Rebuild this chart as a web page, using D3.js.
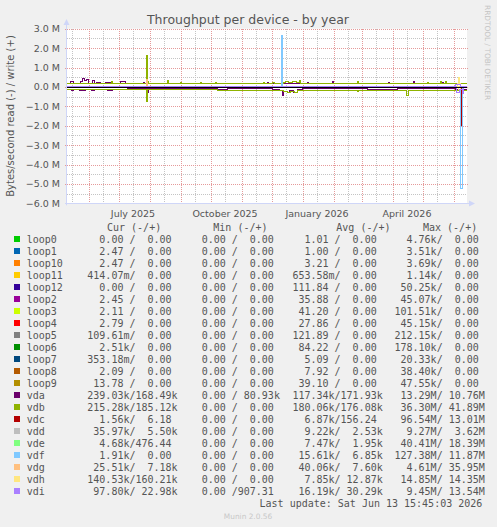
<!DOCTYPE html>
<html lang="en">
<head>
<meta charset="UTF-8">
<title>Throughput per device - by year</title>
<script src="https://d3js.org/d3.v7.min.js"></script>
<style>
  body { margin: 0; background: #f0f0f0; }
  svg { display: block; font-family: "DejaVu Sans", sans-serif; }
  .mono { font-family: "DejaVu Sans Mono", monospace; font-size: 10px; fill: #555; white-space: pre; }
  .tick-label { font-size: 9.5px; fill: #555; }
</style>
</head>
<body>
<div id="chart"></div>
<script>
// legend order = draw order
const devices = ["loop0", "loop1", "loop10", "loop11", "loop12", "loop2", "loop3", "loop4",
  "loop5", "loop6", "loop7", "loop8", "loop9", "vda", "vdb", "vdc", "vdd", "vde", "vdf",
  "vdg", "vdh", "vdi"];
const colors = ["#00CC00", "#0066B3", "#FF8000", "#FFCC00", "#330099", "#990099", "#CCFF00",
  "#FF0000", "#808080", "#008F00", "#00487D", "#B35A00", "#B38F00", "#6B006B", "#8FB300",
  "#B30000", "#BEBEBE", "#80FF80", "#80C9FF", "#FFC080", "#FFE680", "#AA80FF"];

// legend values (read / write)
const curVals = [["0.00","0.00"],["2.47","0.00"],["2.47","0.00"],["414.07m","0.00"],["0.00","0.00"],
  ["2.45","0.00"],["2.11","0.00"],["2.79","0.00"],["109.61m","0.00"],["2.51k","0.00"],
  ["353.18m","0.00"],["2.09","0.00"],["13.78","0.00"],["239.03k","168.49k"],["215.28k","185.12k"],
  ["1.56k","6.18"],["35.97k","5.50k"],["4.68k","476.44"],["1.91k","0.00"],["25.51k","7.18k"],
  ["140.53k","160.21k"],["97.80k","22.98k"]];
const minVals = [["0.00","0.00"],["0.00","0.00"],["0.00","0.00"],["0.00","0.00"],["0.00","0.00"],
  ["0.00","0.00"],["0.00","0.00"],["0.00","0.00"],["0.00","0.00"],["0.00","0.00"],
  ["0.00","0.00"],["0.00","0.00"],["0.00","0.00"],["0.00","80.93k"],["0.00","0.00"],
  ["0.00","0.00"],["0.00","0.00"],["0.00","0.00"],["0.00","0.00"],["0.00","0.00"],
  ["0.00","0.00"],["0.00","907.31"]];
const avgVals = [["1.01","0.00"],["1.00","0.00"],["3.21","0.00"],["653.58m","0.00"],["111.84","0.00"],
  ["35.88","0.00"],["41.20","0.00"],["27.86","0.00"],["121.89","0.00"],["84.22","0.00"],
  ["5.09","0.00"],["7.92","0.00"],["39.10","0.00"],["117.34k","171.93k"],["180.06k","176.08k"],
  ["6.87k","156.24"],["9.22k","2.53k"],["7.47k","1.95k"],["15.61k","6.85k"],["40.06k","7.60k"],
  ["7.85k","12.87k"],["16.19k","30.29k"]];
const maxVals = [["4.76k","0.00"],["3.51k","0.00"],["3.69k","0.00"],["1.14k","0.00"],["50.25k","0.00"],
  ["45.07k","0.00"],["101.51k","0.00"],["45.15k","0.00"],["212.15k","0.00"],["178.10k","0.00"],
  ["20.33k","0.00"],["38.40k","0.00"],["47.55k","0.00"],["13.29M","10.76M"],["36.30M","41.89M"],
  ["96.54M","13.01M"],["9.27M","3.62M"],["40.41M","18.39M"],["127.38M","11.87M"],["4.61M","35.95M"],
  ["14.85M","14.35M"],["9.45M","13.54M"]];

// series: [day since start, MB/s]; read drawn negative
const startDate = new Date(2025, 4, 10);
const spanDays = 400;
const zeroSeries = [[0, 0], [400, 0]];
const vdaWrite = [[0,0.17],[3,0.28],[6,0.17],[13,0.3],[15,0.43],[17,0.33],[19,0.4],[21,0.2],
  [25,0.35],[27,0.2],[29,0.24],[33,0.2],[38,0.25],[43,0.17],[53,0.26],[58,0.17],[76,0.22],
  [77,0.17],[200,0.22],[201,0.17],[240,0.24],[241,0.17],[265,0.26],[266,0.17],[321,0.23],
  [322,0.17],[346,0.26],[347,0.17],[375,0.25],[376,0.17],[400,0.17]];
const vdaRead = [[0,-0.13],[4,-0.2],[6,-0.13],[12,-0.18],[18,-0.12],[24,-0.2],[27,-0.13],
  [40,-0.16],[45,-0.12],[60,-0.1],[80,-0.3],[81,-0.1],[150,-0.12],[160,-0.1],[205,-0.15],
  [212,-0.2],[215,-0.45],[216,-0.25],[220,-0.3],[222,-0.2],[226,-0.28],[230,-0.15],[235,-0.1],
  [300,-0.12],[330,-0.1],[388,-0.15],[393,-0.25],[396,-0.12],[400,-0.12]];
const vdbWrite = [[0,0.17],[44,0.27],[45,0.17],[79,1.62],[80,0.3],[81,0.17],[100,0.32],[101,0.17],
  [113,0.25],[114,0.17],[133,0.22],[134,0.17],[148,0.22],[149,0.17],[196,0.22],[197,0.17],
  [205,0.22],[207,0.17],[216,0.25],[218,0.27],[221,0.24],[225,0.28],[229,0.25],[232,0.35],
  [233,0.17],[290,0.3],[291,0.17],[360,0.22],[361,0.17],[373,0.3],[374,0.17],[378,0.3],
  [379,0.17],[400,0.17]];
const vdbRead = [[0,-0.13],[79,-0.75],[80,-0.13],[120,-0.15],[150,-0.17],[205,-0.2],[216,-0.25],
  [220,-0.28],[223,-0.22],[227,-0.3],[230,-0.2],[234,-0.17],[290,-0.22],[291,-0.18],[339,-0.43],
  [341,-0.19],[400,-0.19]];
const vdcRead = [[0,0],[394.3,-2.0],[395.3,0],[400,0]];
const vdfWrite = [[0,0],[214.6,2.65],[215.6,0],[400,0]];
const vdfRead = [[0,0],[393.3,-5.25],[395.3,-0.1],[396,0],[400,0]];
const vdgWrite = [[0,0],[79,0.38],[80,0],[400,0]];
const vdhWrite = [[0,0],[390,0.2],[391,0.47],[392,0.15],[393,0],[400,0]];
const vdhRead = [[0,0],[391,-0.15],[393,0],[400,0]];
const vdiWrite = [[0,0],[388,0.1],[393,0],[400,0]];
const vdiRead = [[0,0],[389,-0.3],[392,-0.15],[395,-0.32],[396,0],[400,0]];

const yTicks = [3, 2, 1, 0, -1, -2, -3, -4, -5, -6];
const xLabels = ["July 2025", "October 2025", "January 2026", "April 2026"];
const xLabelDates = [new Date(2025, 6, 15), new Date(2025, 9, 15), new Date(2026, 0, 15), new Date(2026, 3, 15)];

const seriesFor = {
  vda: [vdaRead, vdaWrite], vdb: [vdbRead, vdbWrite], vdc: [vdcRead, zeroSeries],
  vdf: [vdfRead, vdfWrite], vdg: [zeroSeries, vdgWrite], vdh: [vdhRead, vdhWrite],
  vdi: [vdiRead, vdiWrite]
};

const width = 497, height = 527;
const plotLeft = 67, plotRight = 467, plotTop = 28.7, plotBottom = 203.3;

const endDate = d3.timeDay.offset(startDate, spanDays);
const dayDate = d => new Date(startDate.getTime() + d * 864e5);

const x = d3.scaleTime().domain([startDate, endDate]).range([plotLeft, plotRight]);
const y = d3.scaleLinear().domain([-6, 3]).range([plotBottom, plotTop]);

const svg = d3.select("#chart").append("svg")
  .attr("width", width).attr("height", height);

svg.append("rect").attr("width", width).attr("height", height).attr("fill", "#f0f0f0");
svg.append("rect").attr("x", plotLeft).attr("y", plotTop)
  .attr("width", plotRight - plotLeft).attr("height", plotBottom - plotTop).attr("fill", "#fff");

// title
svg.append("text").attr("x", 248).attr("y", 24).attr("text-anchor", "middle")
  .attr("font-size", "12.5px").attr("fill", "#555").text("Throughput per device - by year");

// grid
const grid = svg.append("g").attr("shape-rendering", "crispEdges");
const minorY = d3.range(-5.5, 3, 1);
grid.selectAll(".hminor").data(minorY).enter().append("line")
  .attr("x1", plotLeft).attr("x2", plotRight)
  .attr("y1", d => Math.round(y(d)) + 0.5).attr("y2", d => Math.round(y(d)) + 0.5)
  .attr("stroke", "#c4c4c4").attr("stroke-dasharray", "1,1");
const minorX = d3.timeMonth.range(startDate, endDate).map(d => d3.timeDay.offset(d, 14))
  .concat([new Date(2025, 4, 15)]).filter(d => d > startDate && d < endDate);
grid.selectAll(".vminor").data(minorX).enter().append("line")
  .attr("y1", plotTop).attr("y2", plotBottom)
  .attr("x1", d => Math.round(x(d)) + 0.5).attr("x2", d => Math.round(x(d)) + 0.5)
  .attr("stroke", "#c4c4c4").attr("stroke-dasharray", "1,1");
grid.selectAll(".hmajor").data(yTicks).enter().append("line")
  .attr("x1", plotLeft - 2).attr("x2", plotRight + 2)
  .attr("y1", d => Math.round(y(d)) + 0.5).attr("y2", d => Math.round(y(d)) + 0.5)
  .attr("stroke", "#e59a9a").attr("stroke-dasharray", "1,1");
const months = d3.timeMonth.range(d3.timeDay.offset(startDate, 1), endDate);
grid.selectAll(".vmajor").data(months).enter().append("line")
  .attr("y1", plotTop).attr("y2", plotBottom + 2)
  .attr("x1", d => Math.round(x(d)) + 0.5).attr("x2", d => Math.round(x(d)) + 0.5)
  .attr("stroke", "#e59a9a").attr("stroke-dasharray", "1,1");

// y labels
svg.selectAll(".ylab").data(yTicks).enter().append("text")
  .attr("class", "tick-label")
  .attr("x", 60).attr("y", d => y(d) + 3.5).attr("text-anchor", "end")
  .text(d => d3.format(".1f")(d) + " M");

svg.selectAll(".xlab").data(xLabels).enter().append("text")
  .attr("class", "tick-label")
  .attr("x", (d, i) => x(xLabelDates[i])).attr("y", 216.5).attr("text-anchor", "middle")
  .text(d => d);

svg.append("text").attr("transform", "translate(14,116) rotate(-90)")
  .attr("text-anchor", "middle").attr("font-size", "10px").attr("fill", "#555")
  .text("Bytes/second read (-) / write (+)");

svg.append("text").attr("transform", "translate(485,5) rotate(90)")
  .attr("font-size", "7.4px").attr("fill", "#c4c4c4")
  .text("RRDTOOL / TOBI OETIKER");

// data lines
const line = d3.line()
  .x(d => x(dayDate(d[0])))
  .y(d => y(d[1]))
  .curve(d3.curveStepAfter);

const plot = svg.append("g").attr("shape-rendering", "crispEdges");
devices.forEach((name, i) => {
  const pair = seriesFor[name] || [zeroSeries, zeroSeries];
  pair.forEach(s => {
    plot.append("path").datum(s)
      .attr("d", line).attr("fill", "none")
      .attr("stroke", colors[i]).attr("stroke-width", 1);
  });
});

plot.append("line").attr("x1", plotLeft).attr("x2", plotRight)
  .attr("y1", Math.round(y(0)) + 0.5).attr("y2", Math.round(y(0)) + 0.5)
  .attr("stroke", "#000");

// axes with arrows
const axisCol = "#cfd6f8";
svg.append("line").attr("x1", plotLeft - 0.5).attr("x2", plotLeft - 0.5).attr("y1", plotBottom + 2).attr("y2", 22)
  .attr("stroke", axisCol);
svg.append("path").attr("d", `M${plotLeft - 3.5},25 L${plotLeft - 0.5},19 L${plotLeft + 2.5},25 Z`).attr("fill", axisCol);
const axY = Math.round(plotBottom) + 0.5;
svg.append("line").attr("x1", plotLeft - 2).attr("x2", plotRight + 3).attr("y1", axY)
  .attr("y2", axY).attr("stroke", axisCol);
svg.append("path").attr("d", `M${plotRight + 2},${axY - 3} L${plotRight + 8},${axY} L${plotRight + 2},${axY + 3} Z`)
  .attr("fill", axisCol);

// legend
const fmtPair = p => p.map(s => /[a-zA-Z]$/.test(s) ? s.padStart(7) : (s + " ").padStart(7)).join("/");
const legend = svg.append("g");
const rowY = i => 239.3 + i * 12;

const headers = [["Cur (-/+)", 107], ["Min (-/+)", 213.3], ["Avg (-/+)", 336.3], ["Max (-/+)", 423]];
legend.selectAll(".hdr").data(headers).enter().append("text")
  .attr("class", "mono").attr("x", d => d[1]).attr("y", 231.3).text(d => d[0]);

devices.forEach((name, i) => {
  const yy = rowY(i);
  legend.append("rect").attr("x", 14).attr("y", Math.round(yy - 3)).attr("width", 6).attr("height", 6)
    .attr("fill", colors[i]);
  legend.append("text").attr("class", "mono").attr("x", 26.7).attr("y", yy + 3.6).text(name);
  [[curVals, 87.3], [minVals, 189.6], [avgVals, 292.4], [maxVals, 394.5]].forEach(([vals, cx]) => {
    legend.append("text").attr("class", "mono").attr("xml:space", "preserve")
      .attr("x", cx).attr("y", yy + 3.6).text(fmtPair(vals[i]));
  });
});

legend.append("text").attr("class", "mono").attr("x", 482.3).attr("y", rowY(22) + 3.6)
  .attr("text-anchor", "end").text("Last update: Sat Jun 13 15:45:03 2026");

svg.append("text").attr("x", 248).attr("y", 519).attr("text-anchor", "middle")
  .attr("font-size", "7.4px").attr("fill", "#c8c8c8").text("Munin 2.0.56");
</script>
</body>
</html>
